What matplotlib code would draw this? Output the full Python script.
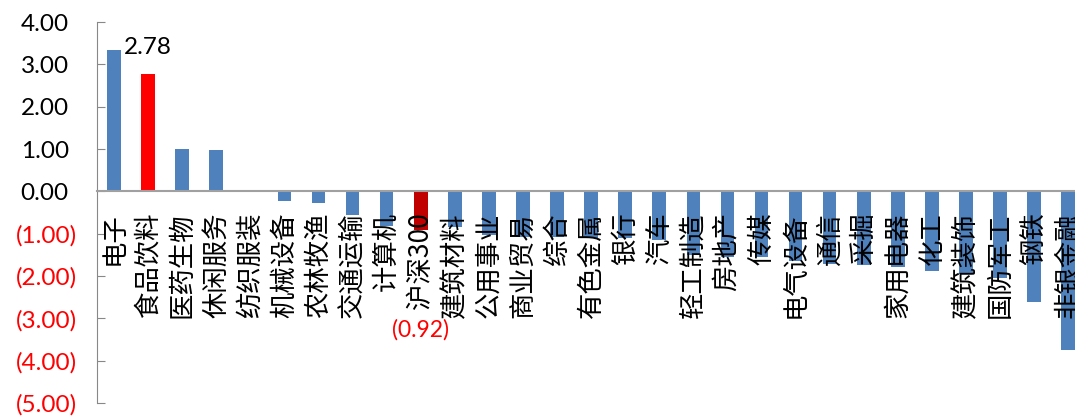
import matplotlib
matplotlib.use("Agg")
import matplotlib.pyplot as plt
from matplotlib.transforms import ScaledTranslation

# industry returns (%)
industries = ['电子', '食品饮料', '医药生物', '休闲服务', '纺织服装', '机械设备', '农林牧渔',
              '交通运输', '计算机', '沪深300', '建筑材料', '公用事业', '商业贸易', '综合',
              '有色金属', '银行', '汽车', '轻工制造', '房地产', '传媒', '电气设备', '通信',
              '采掘', '家用电器', '化工', '建筑装饰', '国防军工', '钢铁', '非银金融']
returns = [3.35, 2.78, 0.99, 0.98, -0.02, -0.22, -0.27,
           -0.55, -0.83, -0.92, -0.85, -1.04, -1.08, -1.08,
           -1.10, -1.10, -1.15, -1.50, -1.54, -1.54, -1.65, -1.71,
           -1.73, -1.78, -1.89, -1.95, -2.05, -2.61, -3.74]
yticks = [4, 3, 2, 1, 0, -1, -2, -3, -4, -5]

colors = []
for name in industries:
    if name == '食品饮料':
        colors.append('#FF0000')
    elif name == '沪深300':
        colors.append('#C00000')
    else:
        colors.append('#4F81BD')

fig = plt.figure(figsize=(10.75, 4.17), dpi=100)
ax = fig.add_axes([0.0902, 0.0336, 0.9098, 0.9136])

x = range(len(industries))
ax.bar(x, returns, width=0.4, color=colors, zorder=2)

ax.set_xlim(-0.5, 28.2)
ax.set_ylim(-5, 4)
ax.set_yticks(yticks)
ax.set_yticklabels([f'{v:.2f}' if v >= 0 else f'({-v:.2f})' for v in yticks],
                   fontsize=17.5, family='Lato')
ax.tick_params(axis='y', direction='in', length=6, color='#888888', pad=14.5)
# accounting style: positives sit left of the closing bracket
shift = ScaledTranslation(-0.08, 0, fig.dpi_scale_trans)
for lab, v in zip(ax.get_yticklabels(), yticks):
    if v >= 0:
        lab.set_color('black')
        lab.set_transform(lab.get_transform() + shift)
    else:
        lab.set_color('#FF0000')
ax.set_xticks([])

for s in ['top', 'right']:
    ax.spines[s].set_visible(False)
ax.spines['left'].set_color('#888888')
ax.spines['bottom'].set_position(('data', 0))
ax.spines['bottom'].set_color('#A0A0A0')
ax.spines['bottom'].set_linewidth(1.5)

# category names hanging below the zero line
for i, name in enumerate(industries):
    ax.annotate(name, xy=(i, 0), xytext=(0, -15), textcoords='offset points',
                rotation=90, ha='center', va='top', fontsize=19,
                family=['Noto Sans CJK SC', 'DejaVu Sans'], zorder=3)

# data labels
i_food = industries.index('食品饮料')
ax.annotate(f'{returns[i_food]:.2f}', xy=(i_food, returns[i_food]), xytext=(0, 14),
            textcoords='offset points', ha='center', va='baseline', fontsize=17.5,
            family='Lato')
i_hs = industries.index('沪深300')
ax.text(i_hs, returns[i_hs] - 2.34, f'({-returns[i_hs]:.2f})', ha='center', va='center',
        fontsize=16.5, family='Lato', color='#FF0000')

fig.savefig('out.png', dpi=100)
